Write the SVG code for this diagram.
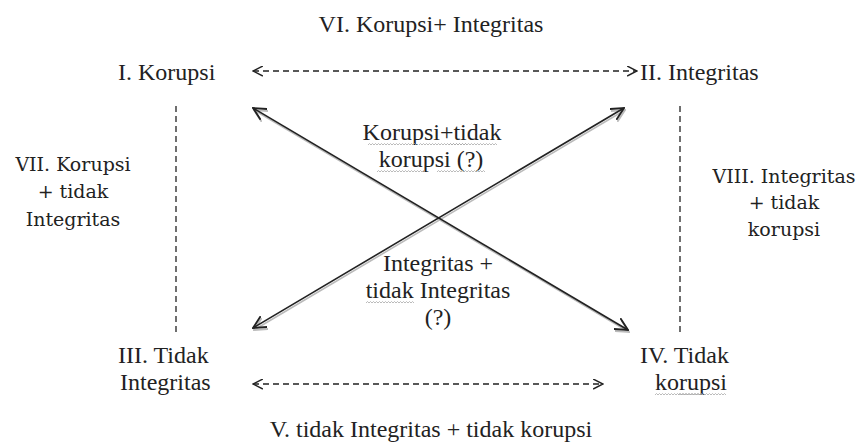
<svg xmlns="http://www.w3.org/2000/svg" width="857" height="446" viewBox="0 0 857 446">
<style>
text{font-family:'Liberation Serif','Times New Roman',Times,serif;font-size:24px;fill:#222;}
.c{text-anchor:middle;}
.side{font-family:'DejaVu Serif','Liberation Serif',serif;font-size:19px;}
.dash{stroke:#222;stroke-width:1.3;stroke-dasharray:6 4;fill:none;}
.solid{stroke:#222;stroke-width:1.6;fill:none;}
.shadow{stroke:#bbb;stroke-width:1.6;fill:none;}
.wave{stroke:#aaa;stroke-width:0.8;fill:none;}
</style>
<defs>
<marker id="ah" viewBox="0 0 10 10" refX="9" refY="5" markerWidth="11" markerHeight="11" markerUnits="userSpaceOnUse" orient="auto-start-reverse">
<path d="M0,0.5 L9,5 L0,9.5" fill="none" stroke="#222" stroke-width="1.4"/>
</marker>
<marker id="ah2" viewBox="0 0 10 10" refX="9" refY="5" markerWidth="14" markerHeight="14" markerUnits="userSpaceOnUse" orient="auto-start-reverse">
<path d="M0,0.5 L9,5 L0,9.5" fill="none" stroke="#222" stroke-width="1.3"/>
</marker>
<marker id="ah3" viewBox="0 0 10 10" refX="9" refY="5" markerWidth="14" markerHeight="14" markerUnits="userSpaceOnUse" orient="auto-start-reverse">
<path d="M0,0.5 L9,5 L0,9.5" fill="none" stroke="#bbb" stroke-width="1.3"/>
</marker>
<path id="w" d="m0,0 l1.5,-1.5 l1.5,1.5 l1.5,-1.5 l1.5,1.5 l1.5,-1.5 l1.5,1.5 l1.5,-1.5 l1.5,1.5 l1.5,-1.5 l1.5,1.5 l1.5,-1.5 l1.5,1.5 l1.5,-1.5 l1.5,1.5 l1.5,-1.5 l1.5,1.5 l1.5,-1.5 l1.5,1.5 l1.5,-1.5 l1.5,1.5 l1.5,-1.5 l1.5,1.5 l1.5,-1.5 l1.5,1.5 l1.5,-1.5 l1.5,1.5 l1.5,-1.5 l1.5,1.5 l1.5,-1.5 l1.5,1.5 l1.5,-1.5 l1.5,1.5"/>
</defs>
<g id="connectors">
<line class="dash" x1="253" y1="71" x2="637" y2="71" marker-start="url(#ah)" marker-end="url(#ah)"/>
<line class="dash" x1="253" y1="384" x2="603" y2="384" marker-start="url(#ah)" marker-end="url(#ah)"/>
<line class="dash" x1="176" y1="106" x2="176" y2="332"/>
<line class="dash" x1="680" y1="106" x2="680" y2="332"/>
<line class="shadow" x1="254" y1="110" x2="629" y2="332" marker-start="url(#ah3)" marker-end="url(#ah3)"/>
<line class="shadow" x1="254" y1="330" x2="625" y2="110" marker-start="url(#ah3)" marker-end="url(#ah3)"/>
<line class="solid" x1="253" y1="108" x2="628" y2="330" marker-start="url(#ah2)" marker-end="url(#ah2)"/>
<line class="solid" x1="253" y1="328" x2="624" y2="108" marker-start="url(#ah2)" marker-end="url(#ah2)"/>
</g>
<g id="n6"><text class="c" x="431" y="32">VI. Korupsi+ Integritas</text></g>
<g id="n1"><text x="118" y="80">I. Korupsi</text></g>
<g id="n2"><text x="640" y="80">II. Integritas</text></g>
<g id="n7"><text class="c side" x="73" y="171">VII. Korupsi</text><text class="c side" x="73" y="198">+ tidak</text><text class="c side" x="73" y="226">Integritas</text></g>
<g id="n8"><text class="c side" x="784" y="183">VIII. Integritas</text><text class="c side" x="784" y="209">+ tidak</text><text class="c side" x="784" y="236">korupsi</text></g>
<g id="mid1"><text class="c" x="432" y="140">Korupsi+tidak</text><text class="c" x="431" y="167">korupsi (?)</text>
<use href="#w" class="wave" x="368" y="145"/><use href="#w" class="wave" x="419" y="145"/><use href="#w" class="wave" x="449" y="145"/>
<use href="#w" class="wave" x="377" y="172"/><use href="#w" class="wave" x="437" y="172"/></g>
<g id="mid2"><text class="c" x="438" y="271">Integritas +</text><text class="c" x="438" y="298">tidak Integritas</text><text class="c" x="438" y="325">(?)</text>
<use href="#w" class="wave" x="366" y="303"/></g>
<g id="n3"><text x="118" y="363">III. Tidak</text><text x="120" y="390">Integritas</text></g>
<g id="n4"><text x="640" y="363">IV. Tidak</text><text x="655" y="390">korupsi</text>
<use href="#w" class="wave" x="655" y="395"/><use href="#w" class="wave" x="678" y="395"/></g>
<g id="n5"><text class="c" x="431" y="437">V. tidak Integritas + tidak korupsi</text></g>
</svg>
